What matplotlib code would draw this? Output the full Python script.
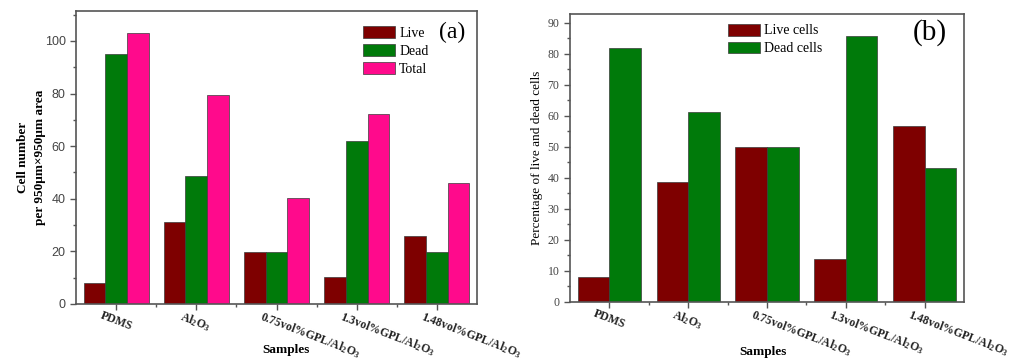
import matplotlib
matplotlib.use("Agg")
import matplotlib.pyplot as plt
import numpy as np
from matplotlib.ticker import MultipleLocator, FixedLocator
from matplotlib.transforms import ScaledTranslation

plt.rcParams['mathtext.fontset'] = 'custom'
plt.rcParams['mathtext.rm'] = 'Liberation Serif:bold'
plt.rcParams['mathtext.it'] = 'Liberation Serif:bold'
plt.rcParams['mathtext.bf'] = 'Liberation Serif:bold'
plt.rcParams['mathtext.default'] = 'rm'

categories = ["PDMS", "Al$_2$O$_3$", "0.75vol%GPL/Al$_2$O$_3$",
              "1.3vol%GPL/Al$_2$O$_3$", "1.48vol%GPL/Al$_2$O$_3$"]

# Panel (a): cell numbers
live_a = [8, 31, 19.6, 10.4, 26]
dead_a = [95, 48.7, 19.6, 61.9, 19.6]
total_a = [103, 79.6, 40.2, 72.2, 45.9]

# Panel (b): percentages
live_b = [8, 38.7, 50, 13.8, 56.6]
dead_b = [82, 61.2, 50, 85.8, 43.2]

c_live = "#7E0000"
c_dead = "#007A0A"
c_total = "#FF0A8C"
edge = "#3a3a3a"
spine_c = "#555555"
serif = "Liberation Serif"

W, H = 1011, 362
fig = plt.figure(figsize=(W / 100, H / 100), dpi=100)

ax1 = fig.add_axes([76 / W, 1 - 304 / H, (477 - 76) / W, (304 - 11) / H])
ax2 = fig.add_axes([570 / W, 1 - 301.7 / H, (964 - 570) / W, (301.7 - 13.5) / H])

x = np.arange(len(categories))

bw = 0.27
ax1.bar(x - bw, live_a, bw, color=c_live, edgecolor=edge, linewidth=0.5, label="Live")
ax1.bar(x, dead_a, bw, color=c_dead, edgecolor=edge, linewidth=0.5, label="Dead")
ax1.bar(x + bw, total_a, bw, color=c_total, edgecolor=edge, linewidth=0.5, label="Total")
ax1.set_xlim(-0.5, 4.5)
ax1.set_ylim(0, 111.4)
ax1.yaxis.set_major_locator(MultipleLocator(20))
ax1.yaxis.set_minor_locator(MultipleLocator(10))

bw2 = 0.4
ax2.bar(x - bw2 / 2, live_b, bw2, color=c_live, edgecolor=edge, linewidth=0.5, label="Live cells")
ax2.bar(x + bw2 / 2, dead_b, bw2, color=c_dead, edgecolor=edge, linewidth=0.5, label="Dead cells")
ax2.set_xlim(-0.5, 4.5)
ax2.set_ylim(0, 93)
ax2.yaxis.set_major_locator(MultipleLocator(10))
ax2.yaxis.set_minor_locator(MultipleLocator(5))

for ax in (ax1, ax2):
    for s in ax.spines.values():
        s.set_color(spine_c)
        s.set_linewidth(1.2)
    ax.set_xticks(x)
    ax.xaxis.set_minor_locator(FixedLocator(x[:-1] + 0.5))
    ax.tick_params(axis='both', which='major', direction='out', length=4, width=1, color=spine_c)
    ax.tick_params(axis='both', which='minor', direction='out', length=2.5, width=1, color=spine_c)
    ax.tick_params(axis='x', which='both', top=False)
    ax.tick_params(axis='y', which='both', right=False)
    ax.set_xticklabels(categories, rotation=-21, ha='left', va='top',
                       rotation_mode='anchor', fontfamily=serif,
                       fontweight='bold', fontsize=8.5, color='#222222')
    for lab in ax.get_xticklabels():
        lab.set_transform(lab.get_transform() + ScaledTranslation(-13 / 100, 5 / 100, fig.dpi_scale_trans))
    ax.set_xlabel("Samples", fontfamily=serif, fontweight='bold', fontsize=9.5, va='center')

ax1.xaxis.set_label_coords((286 - 76) / 401, -(350 - 304) / 293)
ax2.xaxis.set_label_coords((763 - 570) / 394, -(352 - 301.7) / 288.2)

for lab in ax1.get_yticklabels():
    lab.set_fontfamily("Liberation Sans")
    lab.set_fontsize(9)
    lab.set_color('#444444')
for lab in ax2.get_yticklabels():
    lab.set_fontfamily(serif)
    lab.set_fontsize(8.5)
    lab.set_color('#444444')

ax1.set_ylabel("Cell number\nper 950\u03bcm\u00d7950\u03bcm area", fontfamily=serif,
               fontweight='bold', fontsize=9.5, labelpad=-1, linespacing=1.6)
ax2.set_ylabel("Percentage of live and dead cells", fontfamily=serif,
               fontsize=9.5, labelpad=3)

leg1 = ax1.legend(loc='upper left', bbox_to_anchor=((363 - 76) / 401, 0.948),
                  frameon=False, prop={'family': serif, 'size': 10},
                  handlelength=2.3, handleheight=0.95, handletextpad=0.3,
                  labelspacing=0.3, borderpad=0, borderaxespad=0)
leg2 = ax2.legend(loc='upper left', bbox_to_anchor=((728 - 570) / 394, 0.965),
                  frameon=False, prop={'family': serif, 'size': 10},
                  handlelength=2.3, handleheight=0.95, handletextpad=0.3,
                  labelspacing=0.3, borderpad=0, borderaxespad=0)

fig.text(452 / W, 1 - 32 / H, "(a)", fontfamily=serif, fontsize=17, ha='center', va='center')
fig.text(930 / W, 1 - 33 / H, "(b)", fontfamily=serif, fontsize=21, ha='center', va='center')

fig.savefig("out.png", dpi=100)
